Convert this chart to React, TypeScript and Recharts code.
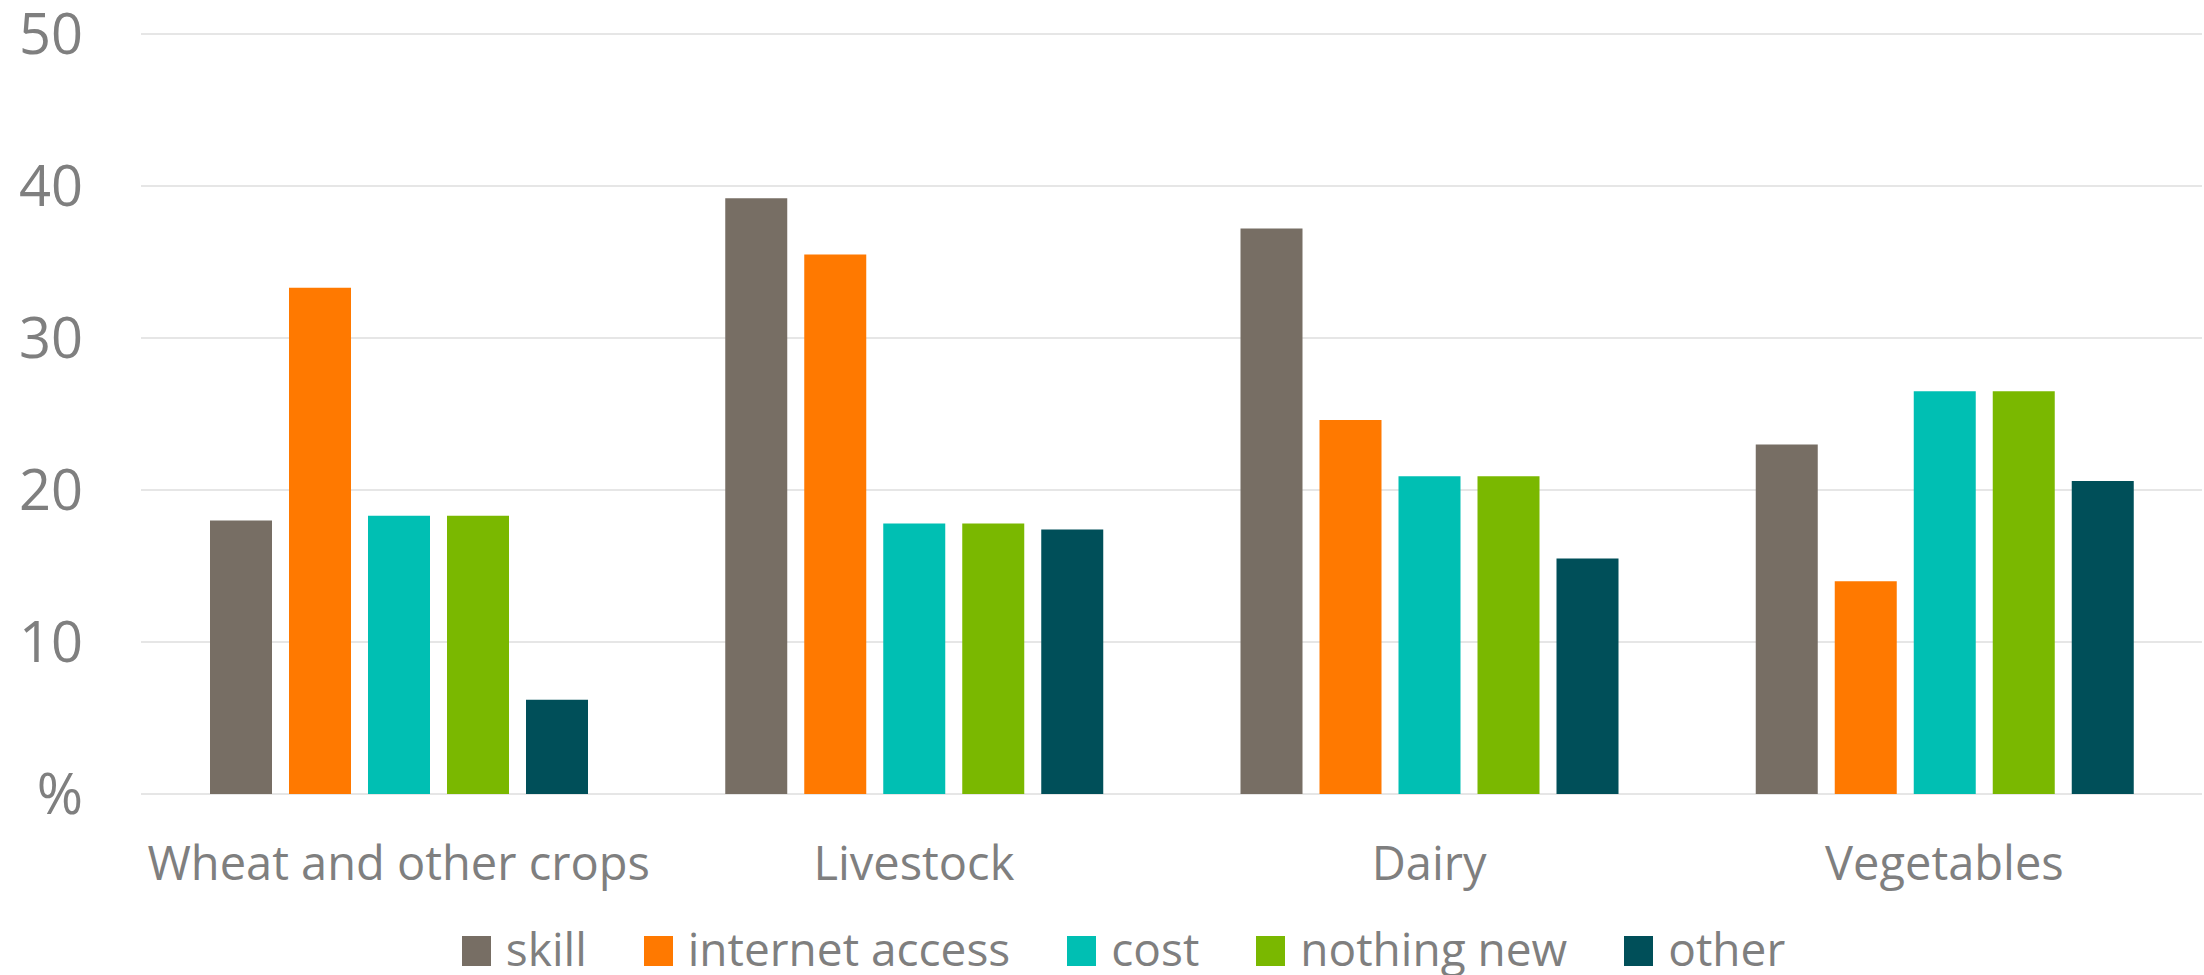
import React from 'react';
import { BarChart, Bar, XAxis, YAxis, CartesianGrid, Legend } from 'recharts';

const categories = ['Wheat and other crops', 'Livestock', 'Dairy', 'Vegetables'];
const skill = [18.0, 39.2, 37.2, 23.0];
const internetAccess = [33.3, 35.5, 24.6, 14.0];
const cost = [18.3, 17.8, 20.9, 26.5];
const nothingNew = [18.3, 17.8, 20.9, 26.5];
const other = [6.2, 17.4, 15.5, 20.6];
const yTicks = [0, 10, 20, 30, 40, 50];

const seriesDefs = [
  { key: 'skill', name: 'skill', color: '#776E64', values: skill },
  { key: 'internet', name: 'internet access', color: '#FF7900', values: internetAccess },
  { key: 'cost', name: 'cost', color: '#00BFB3', values: cost },
  { key: 'nothing', name: 'nothing new', color: '#7AB800', values: nothingNew },
  { key: 'other', name: 'other', color: '#004F59', values: other },
];

const data = categories.map((c, i) => {
  const row: Record<string, string | number> = { category: c };
  seriesDefs.forEach((s) => {
    row[s.key] = s.values[i];
  });
  return row;
});

const FONT = "'Open Sans', sans-serif";
const TEXT = '#7F7F7F';

const LegendContent = () => (
  <div
    style={{
      display: 'flex',
      justifyContent: 'center',
      alignItems: 'flex-start',
      height: 46,
      paddingLeft: 43,
      boxSizing: 'border-box',
      fontFamily: FONT,
      fontSize: 46,
      lineHeight: '46px',
      color: TEXT,
    }}
  >
    {seriesDefs.map((s, i) => (
      <div key={s.key} style={{ display: 'flex', alignItems: 'flex-start', marginLeft: i === 0 ? 0 : 57 }}>
        <div style={{ width: 29, height: 30, background: s.color, marginTop: 11, marginRight: 15 }} />
        <span style={{ whiteSpace: 'nowrap' }}>{s.name}</span>
      </div>
    ))}
  </div>
);

export default function App() {
  return (
    <div style={{ position: 'absolute', left: 0, top: 0, background: '#fff' }}>
      <BarChart
        width={2204}
        height={975}
        data={data}
        margin={{ top: 34, right: 2, bottom: 0, left: 0 }}
        barSize={62}
        barGap={17}
      >
        <CartesianGrid vertical={false} stroke="#E6E6E6" strokeWidth={2} />
        <XAxis
          dataKey="category"
          axisLine={false}
          tickLine={false}
          tickSize={0}
          tickMargin={53}
          height={135}
          interval={0}
          tick={{ fill: TEXT, fontSize: 47, fontFamily: FONT }}
        />
        <YAxis
          domain={[0, 50]}
          ticks={yTicks}
          axisLine={false}
          tickLine={false}
          tickSize={0}
          tickMargin={58}
          width={141}
          tick={{ fill: TEXT, fontSize: 56, fontFamily: FONT }}
          tickFormatter={(v: number) => (v === 0 ? '%' : String(v))}
        />
        <Legend
          verticalAlign="bottom"
          content={<LegendContent />}
          wrapperStyle={{ left: 0, top: 925, width: 2204, height: 46 }}
        />
        {seriesDefs.map((s) => (
          <Bar key={s.key} dataKey={s.key} name={s.name} fill={s.color} isAnimationActive={false} />
        ))}
      </BarChart>
    </div>
  );
}
